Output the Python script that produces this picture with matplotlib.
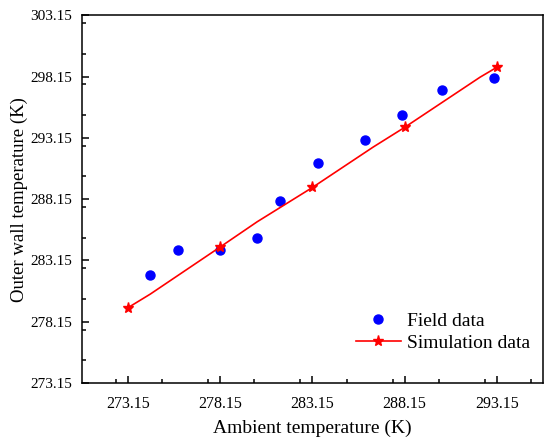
import matplotlib
matplotlib.use('Agg')
import matplotlib.pyplot as plt
from matplotlib.ticker import MultipleLocator, FormatStrFormatter

# Field measurements
fieldX = [274.33, 275.88, 278.13, 280.14, 281.39, 283.48, 285.99, 287.99, 290.2, 293.0]
fieldY = [281.95, 283.99, 284.01, 285.02, 287.97, 291.06, 293.01, 295.02, 297.05, 298.03]

# Simulation curve (stars on every other point)
simX = [273.15, 274.35, 278.15, 280.15, 283.15, 286.45, 288.15, 292.25, 293.15]
simY = [279.3, 280.4, 284.25, 286.3, 289.1, 292.4, 294.0, 298.1, 298.9]

xTicks = [273.15, 278.15, 283.15, 288.15, 293.15]
yTicks = [273.15, 278.15, 283.15, 288.15, 293.15, 298.15, 303.15]

plt.rcParams['font.family'] = ['Liberation Serif', 'DejaVu Serif']

fig = plt.figure(figsize=(5.5, 4.47), dpi=100)
ax = fig.add_axes([0.149, 0.143, 0.838, 0.823])

ax.plot(fieldX, fieldY, linestyle='none', marker='o', markersize=6.5,
        color='#0000ff', label='Field data')
ax.plot(simX, simY, color='#ff0000', linewidth=1.2, marker='*', markersize=8,
        markevery=[0, 2, 4, 6, 8], label='Simulation data')

ax.set_xlim(270.65, 295.65)
ax.set_ylim(273.15, 303.15)
ax.set_xticks(xTicks)
ax.set_yticks(yTicks)
ax.xaxis.set_minor_locator(MultipleLocator(2.5))
ax.yaxis.set_minor_locator(MultipleLocator(2.5))
ax.xaxis.set_major_formatter(FormatStrFormatter('%.2f'))
ax.yaxis.set_major_formatter(FormatStrFormatter('%.2f'))

ax.tick_params(which='major', direction='in', length=5, width=1.1, labelsize=11.5)
ax.tick_params(axis='x', which='major', pad=9)
ax.tick_params(axis='y', which='major', pad=7, labelsize=11)
ax.tick_params(which='minor', direction='in', length=3, width=1.1)

for s in ax.spines.values():
    s.set_linewidth(1.1)

ax.set_xlabel('Ambient temperature (K)', fontsize=14, labelpad=6)
ax.set_ylabel('Outer wall temperature (K)', fontsize=13.5, labelpad=2)

ax.legend(loc='upper left', bbox_to_anchor=(356 / 550, 1 - 312 / 447),
          bbox_transform=fig.transFigure, frameon=False, fontsize=14,
          borderpad=0, borderaxespad=0, labelspacing=0.25,
          handlelength=2.3, handletextpad=0.3)

plt.savefig('out.png', dpi=100)
